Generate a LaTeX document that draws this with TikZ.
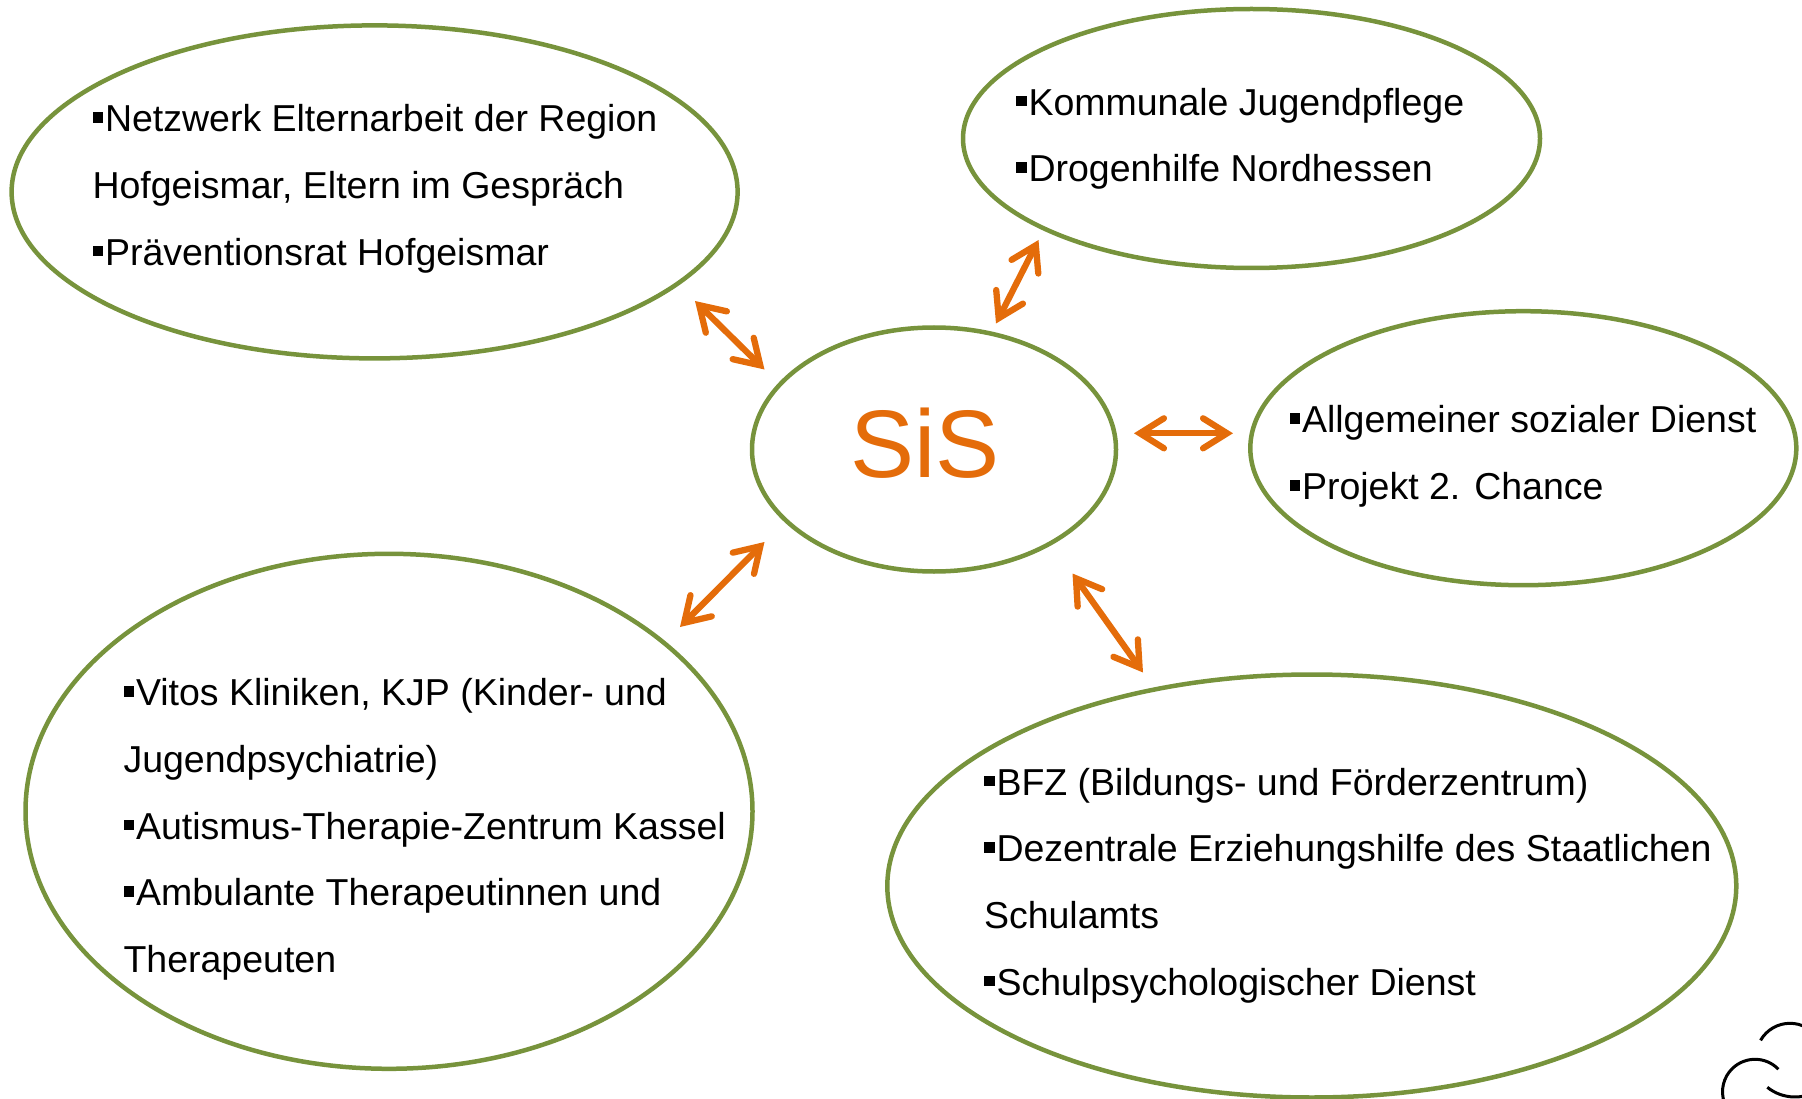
\documentclass[tikz,border=0pt]{standalone}
\usepackage{fontspec}
\setmainfont{Liberation Sans}
\usetikzlibrary{arrows.meta,shapes.geometric}
\definecolor{olivegreen}{RGB}{119,147,60}
\definecolor{sisorange}{RGB}{228,108,10}
\newcommand{\bul}{\rule[8.7pt]{10.7pt}{10.7pt}\hspace{1.8pt}}
\tikzset{
  ell/.style={ellipse, draw=olivegreen, line width=4.5pt, inner sep=0pt, outer sep=0pt},
  txt/.style={anchor=base west, inner sep=0pt, outer sep=0pt, text=black, font=\fontsize{37.5}{44}\selectfont},
  sistxt/.style={anchor=base, inner sep=0pt, text=sisorange, font=\fontsize{96}{110}\selectfont},
  biarrow/.style={draw=sisorange, line width=6.3pt, line cap=round,
    {Straight Barb[length=24pt,width=30pt,line cap=round,line join=miter]}-{Straight Barb[length=24pt,width=30pt,line cap=round,line join=miter]}},
  logo/.style={draw=black, line width=3pt}
}
\begin{document}
\begin{tikzpicture}[x=1pt,y=-1pt]
\useasboundingbox (0,0) rectangle (1802,1099);
% ellipses
\node[ell, minimum width=726pt, minimum height=333pt] (E1) at (374.6,191.9) {};
\node[ell, minimum width=577pt, minimum height=259pt] (E2) at (1251.5,138.5) {};
\node[ell, minimum width=364pt, minimum height=244pt] (SIS) at (934,449.5) {};
\node[ell, minimum width=546pt, minimum height=274pt] (E4) at (1523.3,448.2) {};
\node[ell, minimum width=727pt, minimum height=515pt] (E5) at (389,811.3) {};
\node[ell, minimum width=849pt, minimum height=423pt] (E6) at (1311.8,886) {};
% SiS
\node[sistxt] (sis) at (925,477.3) {SiS};
% texts E1
\node[txt] (t11) at (92.5,131.7) {\bul Netzwerk Elternarbeit der Region};
\node[txt] (t12) at (92.5,198.4) {Hofgeismar, Eltern im Gespräch};
\node[txt] (t13) at (92.5,265.1) {\bul Präventionsrat Hofgeismar};
% texts E2
\node[txt] (t21) at (1016,115.2) {\bul Kommunale Jugendpflege};
\node[txt] (t22) at (1016,181.9) {\bul Drogenhilfe Nordhessen};
% texts E4
\node[txt] (t41) at (1289.5,432.7) {\bul Allgemeiner sozialer Dienst};
\node[txt] (t42) at (1289.5,499.4) {\bul Projekt 2. Chance};
% texts E5
\node[txt] (t51) at (123.5,705.7) {\bul Vitos Kliniken, KJP (Kinder- und};
\node[txt] (t52) at (123.5,772.4) {Jugendpsychiatrie)};
\node[txt] (t53) at (123.5,839.1) {\bul Autismus-Therapie-Zentrum Kassel};
\node[txt] (t54) at (123.5,905.8) {\bul Ambulante Therapeutinnen und};
\node[txt] (t55) at (123.5,972.5) {Therapeuten};
% texts E6
\node[txt] (t61) at (984,795) {\bul BFZ (Bildungs- und Förderzentrum)};
\node[txt] (t62) at (984,861.7) {\bul Dezentrale Erziehungshilfe des Staatlichen};
\node[txt] (t63) at (984,928.4) {Schulamts};
\node[txt] (t64) at (984,995.1) {\bul Schulpsychologischer Dienst};
% arrow end points
\coordinate (a1) at (695,301);
\coordinate (a2) at (764.5,369.5);
\coordinate (b1) at (996,323.5);
\coordinate (b2) at (1038.5,240);
\coordinate (c1) at (1134,433.3);
\coordinate (c2) at (1233,433.3);
\coordinate (d1) at (680,627);
\coordinate (d2) at (764.5,542);
\coordinate (e1) at (1072.5,573.5);
\coordinate (e2) at (1143,672.5);
\draw[biarrow] (a1) -- (a2);
\draw[biarrow] (b1) -- (b2);
\draw[biarrow] (c1) -- (c2);
\draw[biarrow] (d1) -- (d2);
\draw[biarrow] (e1) -- (e2);
% partial logo at the corner
\draw[logo] (1790,1057.3) ++(-150:34) arc[start angle=-150, end angle=-35, radius=34];
\draw[logo] (1755,1091.8) ++(-44:32.5) arc[start angle=-44, end angle=-200, radius=32.5];
\draw[logo] (1795,1052.6) ++(128.6:44.4) arc[start angle=128.6, end angle=55, radius=44.4];
\end{tikzpicture}
\end{document}
